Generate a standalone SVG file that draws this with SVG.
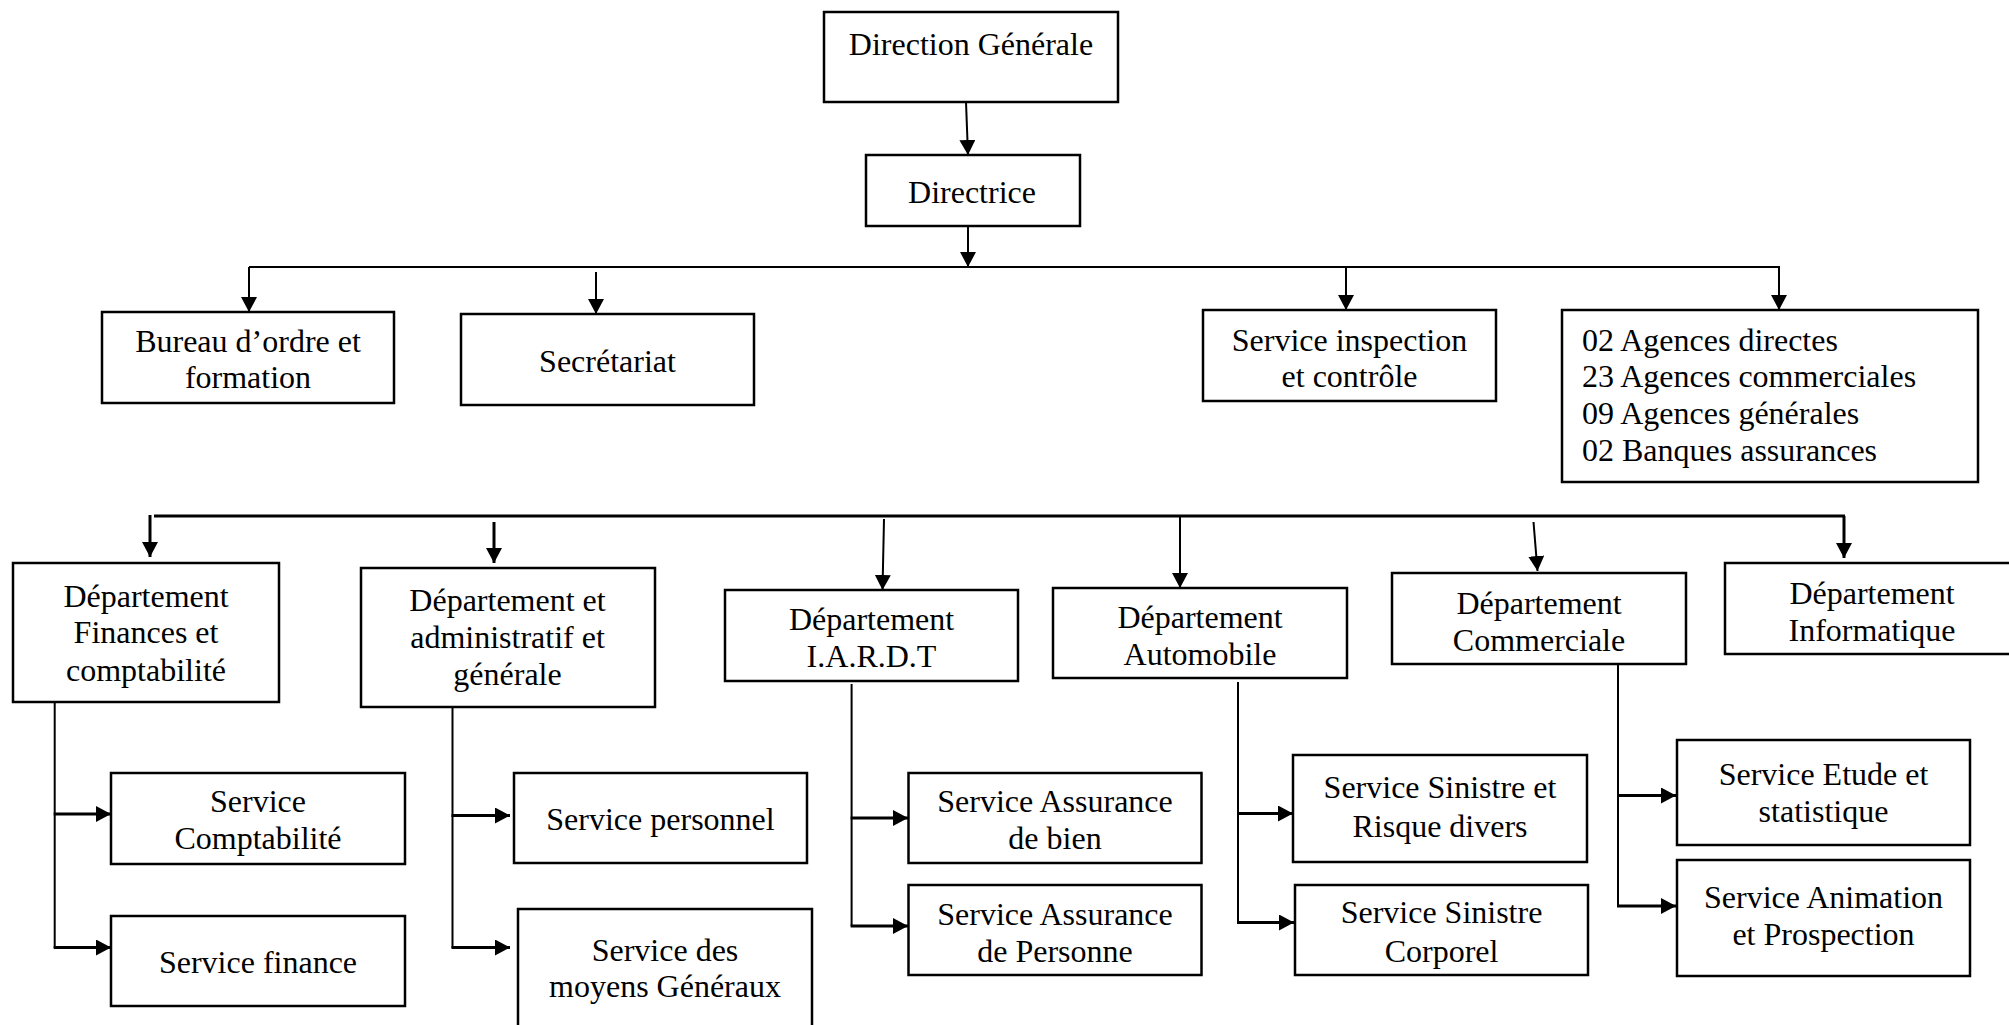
<svg xmlns="http://www.w3.org/2000/svg" width="2009" height="1025" viewBox="0 0 2009 1025">
<defs>
<style>
.box{fill:#fff;stroke:#000;stroke-width:2.5}
.t{font-family:"Liberation Serif","Times New Roman",serif;font-size:32px;fill:#000;text-anchor:middle}
.tl{font-family:"Liberation Serif","Times New Roman",serif;font-size:32px;fill:#000;text-anchor:start}
.c{stroke:#000;stroke-width:2;fill:none}
.cb{stroke:#000;stroke-width:3;fill:none}
.a{marker-end:url(#arr)}
</style>
<marker id="arr" markerUnits="userSpaceOnUse" markerWidth="16" markerHeight="16" refX="15" refY="8" orient="auto">
<path d="M0,0 L15,8 L0,16 z" fill="#000"/>
</marker>
</defs>
<rect width="2009" height="1025" fill="#fff"/>

<g id="connectors">
<line class="c a" x1="966" y1="102" x2="968" y2="155"/>
<line class="c a" x1="968" y1="226" x2="968" y2="267"/>
<line class="c" x1="249" y1="267" x2="1780" y2="267"/>
<line class="c a" x1="249" y1="267" x2="249" y2="312"/>
<line class="c a" x1="596" y1="272" x2="596" y2="314"/>
<line class="c a" x1="1346" y1="267" x2="1346" y2="310"/>
<line class="c a" x1="1779" y1="267" x2="1779" y2="310"/>

<line class="cb" x1="154" y1="516" x2="1845" y2="516"/>
<line class="cb a" x1="150" y1="515" x2="150" y2="557"/>
<line class="cb a" x1="494" y1="522" x2="494" y2="563"/>
<line class="c a" x1="884" y1="519" x2="882.5" y2="590"/>
<line class="c a" x1="1180" y1="516" x2="1180" y2="588"/>
<line class="c a" x1="1533.5" y1="522" x2="1537.5" y2="571"/>
<line class="cb a" x1="1844" y1="516" x2="1844" y2="558"/>

<line class="c" x1="54.7" y1="702" x2="54.7" y2="948"/>
<line class="cb a" x1="53.7" y1="814" x2="111" y2="814"/>
<line class="cb a" x1="53.7" y1="947.5" x2="111" y2="947.5"/>

<line class="c" x1="452.5" y1="704" x2="452.5" y2="948"/>
<line class="cb a" x1="451.5" y1="815.5" x2="510" y2="815.5"/>
<line class="cb a" x1="451.5" y1="947.5" x2="510" y2="947.5"/>

<line class="c" x1="851.6" y1="684" x2="851.6" y2="926"/>
<line class="cb a" x1="850.6" y1="818" x2="908" y2="818"/>
<line class="cb a" x1="850.6" y1="926" x2="908" y2="926"/>

<line class="c" x1="1238" y1="682" x2="1238" y2="923"/>
<line class="cb a" x1="1237" y1="813.5" x2="1293" y2="813.5"/>
<line class="cb a" x1="1237" y1="922.5" x2="1294" y2="922.5"/>

<line class="c" x1="1618" y1="664" x2="1618" y2="906"/>
<line class="cb a" x1="1617" y1="795.5" x2="1676" y2="795.5"/>
<line class="cb a" x1="1617" y1="906" x2="1676" y2="906"/>
</g>

<g id="n-direction-generale">
<rect class="box" x="824" y="12" width="294" height="90"/>
<text class="t" x="971" y="55">Direction Générale</text>
</g>
<g id="n-directrice">
<rect class="box" x="866" y="155" width="214" height="71"/>
<text class="t" x="972" y="203">Directrice</text>
</g>
<g id="n-bureau">
<rect class="box" x="102" y="312" width="292" height="91"/>
<text class="t" x="248" y="351.5">Bureau d’ordre et</text>
<text class="t" x="248" y="388.3">formation</text>
</g>
<g id="n-secretariat">
<rect class="box" x="461" y="314" width="293" height="91"/>
<text class="t" x="607.5" y="371.5">Secrétariat</text>
</g>
<g id="n-inspection">
<rect class="box" x="1203" y="310" width="293" height="91"/>
<text class="t" x="1349.5" y="350.7">Service inspection</text>
<text class="t" x="1349.5" y="387">et contrôle</text>
</g>
<g id="n-agences">
<rect class="box" x="1562" y="310" width="416" height="172"/>
<text class="tl" x="1582" y="350.7">02 Agences directes</text>
<text class="tl" x="1582" y="387.3">23 Agences commerciales</text>
<text class="tl" x="1582" y="424">09 Agences générales</text>
<text class="tl" x="1582" y="460.7">02 Banques assurances</text>
</g>

<g id="n-dep-finances">
<rect class="box" x="13" y="563" width="266" height="139"/>
<text class="t" x="146" y="606.5">Département</text>
<text class="t" x="146" y="643.3">Finances et</text>
<text class="t" x="146" y="680.5">comptabilité</text>
</g>
<g id="n-dep-admin">
<rect class="box" x="361" y="568" width="294" height="139"/>
<text class="t" x="507.5" y="611">Département et</text>
<text class="t" x="507.5" y="647.7">administratif et</text>
<text class="t" x="507.5" y="684.5">générale</text>
</g>
<g id="n-dep-iardt">
<rect class="box" x="725" y="590" width="293" height="91"/>
<text class="t" x="871.5" y="630">Département</text>
<text class="t" x="871.5" y="666.7">I.A.R.D.T</text>
</g>
<g id="n-dep-auto">
<rect class="box" x="1053" y="588" width="294" height="90"/>
<text class="t" x="1200" y="628.3">Département</text>
<text class="t" x="1200" y="665">Automobile</text>
</g>
<g id="n-dep-commerciale">
<rect class="box" x="1392" y="573" width="294" height="91"/>
<text class="t" x="1539" y="614">Département</text>
<text class="t" x="1539" y="650.7">Commerciale</text>
</g>
<g id="n-dep-informatique">
<rect class="box" x="1725" y="563" width="294" height="91"/>
<text class="t" x="1872" y="604">Département</text>
<text class="t" x="1872" y="640.5">Informatique</text>
</g>

<g id="n-comptabilite">
<rect class="box" x="111" y="773" width="294" height="91"/>
<text class="t" x="258" y="812.3">Service</text>
<text class="t" x="258" y="849.3">Comptabilité</text>
</g>
<g id="n-finance">
<rect class="box" x="111" y="916" width="294" height="90"/>
<text class="t" x="258" y="972.7">Service finance</text>
</g>
<g id="n-personnel">
<rect class="box" x="514" y="773" width="293" height="90"/>
<text class="t" x="660.5" y="830">Service personnel</text>
</g>
<g id="n-moyens">
<rect class="box" x="518" y="909" width="294" height="140"/>
<text class="t" x="665" y="961">Service des</text>
<text class="t" x="665" y="997.3">moyens Généraux</text>
</g>
<g id="n-ass-bien">
<rect class="box" x="908.5" y="773" width="293" height="90"/>
<text class="t" x="1055" y="812.3">Service Assurance</text>
<text class="t" x="1055" y="848.5">de bien</text>
</g>
<g id="n-ass-personne">
<rect class="box" x="908.5" y="885" width="293" height="90"/>
<text class="t" x="1055" y="925">Service Assurance</text>
<text class="t" x="1055" y="961.5">de Personne</text>
</g>
<g id="n-sinistre-risque">
<rect class="box" x="1293" y="755" width="294" height="107"/>
<text class="t" x="1440" y="798.3">Service Sinistre et</text>
<text class="t" x="1440" y="836.7">Risque divers</text>
</g>
<g id="n-sinistre-corporel">
<rect class="box" x="1295" y="885" width="293" height="90"/>
<text class="t" x="1441.5" y="923.3">Service Sinistre</text>
<text class="t" x="1441.5" y="961.5">Corporel</text>
</g>
<g id="n-etude">
<rect class="box" x="1677" y="740" width="293" height="105"/>
<text class="t" x="1823.5" y="785">Service Etude et</text>
<text class="t" x="1823.5" y="821.7">statistique</text>
</g>
<g id="n-animation">
<rect class="box" x="1677" y="860" width="293" height="116"/>
<text class="t" x="1823.5" y="908.3">Service Animation</text>
<text class="t" x="1823.5" y="945">et Prospection</text>
</g>
</svg>
